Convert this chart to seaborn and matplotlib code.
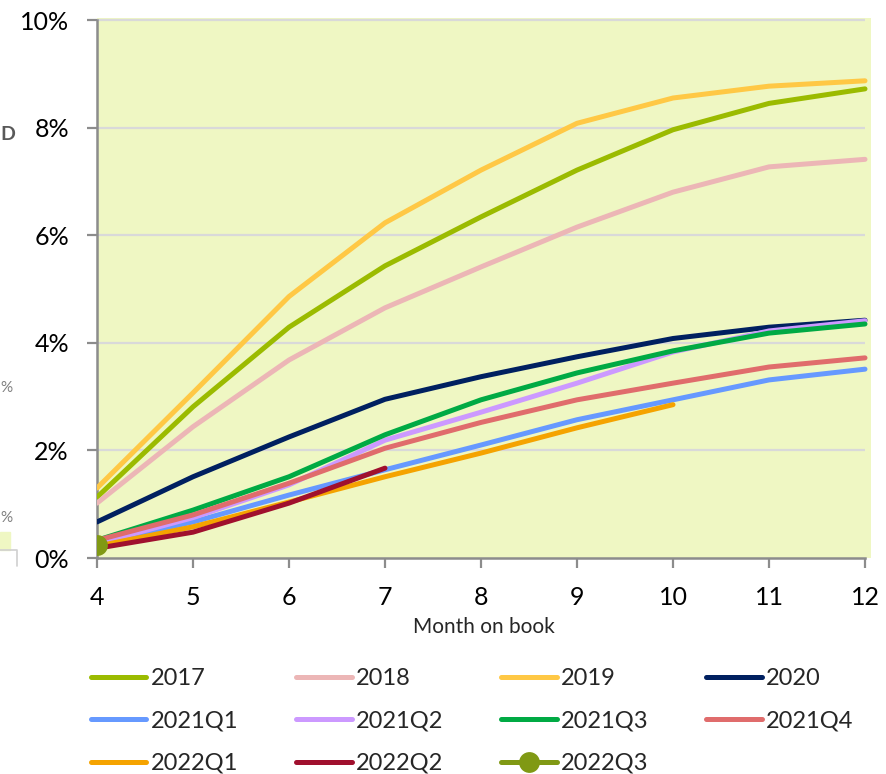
import matplotlib
matplotlib.use("Agg")
import matplotlib.pyplot as plt
from matplotlib.lines import Line2D
from matplotlib.patches import Rectangle
import seaborn as sns
import pandas as pd

# Cumulative rate by vintage (%), month on book 4..12
months = [4, 5, 6, 7, 8, 9, 10, 11, 12]
v2017 = [1.13, 2.81, 4.29, 5.43, 6.34, 7.21, 7.96, 8.45, 8.72]
v2018 = [1.02, 2.44, 3.68, 4.65, 5.41, 6.15, 6.80, 7.27, 7.41]
v2019 = [1.30, 3.07, 4.86, 6.23, 7.21, 8.08, 8.55, 8.77, 8.87]
v2020 = [0.67, 1.51, 2.25, 2.95, 3.37, 3.74, 4.08, 4.29, 4.42]
v2021q1 = [0.28, 0.67, 1.17, 1.64, 2.10, 2.57, 2.94, 3.31, 3.51]
v2021q2 = [0.27, 0.75, 1.36, 2.19, 2.71, 3.25, 3.83, 4.22, 4.41]
v2021q3 = [0.33, 0.89, 1.51, 2.29, 2.94, 3.44, 3.85, 4.18, 4.35]
v2021q4 = [0.33, 0.80, 1.39, 2.04, 2.52, 2.94, 3.25, 3.55, 3.72]
v2022q1 = [0.22, 0.58, 1.04, 1.51, 1.95, 2.42, 2.85]
v2022q2 = [0.18, 0.48, 1.02, 1.67]
v2022q3 = [0.25]

labels = ["2017", "2018", "2019", "2020", "2021Q1", "2021Q2", "2021Q3",
          "2021Q4", "2022Q1", "2022Q2", "2022Q3"]
series = [v2017, v2018, v2019, v2020, v2021q1, v2021q2, v2021q3,
          v2021q4, v2022q1, v2022q2, v2022q3]
colors = ["#9BBB00", "#ECB6B6", "#FFC845", "#002060", "#6699FF", "#CC99FF",
          "#00AA44", "#E06C6C", "#F5A300", "#A0102E", "#809914"]

yticks = [0, 2, 4, 6, 8, 10]

sns.set_theme(style="white")
plt.rcParams["font.family"] = ["Lato", "DejaVu Sans"]

W, H = 887, 774
fig = plt.figure(figsize=(W / 100, H / 100), dpi=100)
ax = fig.add_axes([97 / W, 1 - 558 / H, (871 - 97) / W, (558 - 18) / H])
ax.set_facecolor("#EFF7C3")

ax.hlines(yticks[1:], 4, 12, color="#D9D9D9", lw=1.6, zorder=0)

lw = 3.6
for lab, vals, col in zip(labels, series, colors):
    df = pd.DataFrame({"month": months[:len(vals)], "rate": vals})
    if len(vals) == 1:
        sns.lineplot(data=df, x="month", y="rate", color=col, marker="o",
                     markersize=15, markeredgewidth=0, ax=ax, legend=False,
                     zorder=5)
    else:
        sns.lineplot(data=df, x="month", y="rate", color=col, linewidth=lw,
                     solid_capstyle="round", solid_joinstyle="round",
                     ax=ax, legend=False, zorder=3)

ax.set_xlim(4, 4 + (871 - 97) / 96)
ax.set_ylim(0, 10 * (558 - 18) / 538)
ax.set_xticks(months)
ax.set_yticks(yticks)
ax.set_yticklabels([f"{t}%" for t in yticks])
ax.tick_params(axis="both", which="both", direction="out", length=7.2,
               width=1.6, color="#8C8C8C", labelsize=18, labelcolor="black",
               left=True, bottom=True, pad=13)
for side in ["top", "right"]:
    ax.spines[side].set_visible(False)
for side in ["left", "bottom"]:
    ax.spines[side].set_color("#8C8C8C")
    ax.spines[side].set_linewidth(1.8)
ax.spines["left"].set_bounds(0, 10)
ax.spines["bottom"].set_bounds(4, 12)
ax.set_xlabel("Month on book", fontsize=15, labelpad=6)
ax.set_ylabel("")

# Legend laid out row by row in four columns
handles = []
for lab, vals, col in zip(labels, series, colors):
    if len(vals) == 1:
        h = Line2D([], [], color=col, lw=lw, marker="o", markersize=15,
                   markeredgewidth=0, solid_capstyle="round", label=lab)
    else:
        h = Line2D([], [], color=col, lw=lw, solid_capstyle="round", label=lab)
    handles.append(h)
order = [0, 4, 8, 1, 5, 9, 2, 6, 10, 3, 7]
fig.legend([handles[i] for i in order], [labels[i] for i in order],
           loc="upper left", bbox_to_anchor=(91 / W, 1 - 668 / H), ncol=4,
           frameon=False, fontsize=17, handlelength=2.35, handletextpad=0.18,
           columnspacing=2.45, labelspacing=0.91, borderpad=0,
           borderaxespad=0)

# Neighbouring panel edge on the left
fig.text(0.0, 1 - 135 / H, "D", fontsize=14, fontweight="bold",
         color="#595959", ha="left", va="center")
fig.text(0.0, 1 - 388 / H, "%", fontsize=11, color="#7F7F7F",
         ha="left", va="center")
fig.text(0.0, 1 - 518 / H, "%", fontsize=11, color="#7F7F7F",
         ha="left", va="center")
fig.patches.append(Rectangle((0, 1 - 550 / H), 10 / W, 18 / H,
                             transform=fig.transFigure, color="#EFF7C3",
                             zorder=0))
fig.lines.append(Line2D([0, 17 / W, 17 / W], [1 - 550 / H, 1 - 550 / H, 1 - 566 / H],
                        transform=fig.transFigure, color="#D0D0D0", lw=1.2))

fig.savefig("out.png", dpi=100)
